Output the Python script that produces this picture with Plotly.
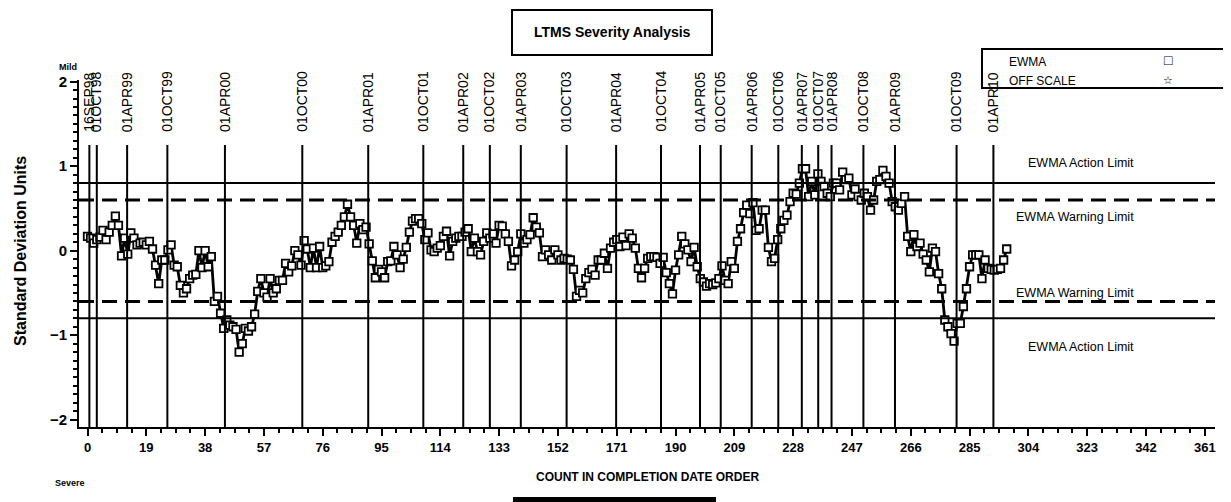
import plotly.graph_objects as go

# the page body has an 8px margin, so the figure is drawn 8px in from the top-left
OFF = 8
W, H = 1231 - OFF, 502 - OFF
L, R, T, B = 79 - OFF, 16, 80 - OFF, 75

# EWMA severity values, in completion-date order
ewma = [
    0.17, 0.15, 0.09, 0.13, 0.16, 0.24, 0.13, 0.22, 0.30, 0.41,
    0.30, -0.06, 0.15, -0.04, 0.21, 0.15, 0.07, 0.09, 0.10, 0.07,
    0.11, 0.02, -0.17, -0.39, -0.11, -0.11, 0.01, 0.07, -0.17, -0.19,
    -0.41, -0.50, -0.45, -0.33, -0.29, -0.28, 0.00, -0.20, 0.00, -0.19,
    -0.07, -0.60, -0.54, -0.74, -0.92,
    -0.82, -0.88, -0.90, -0.93, -1.20, -1.10, -0.92, -0.95, -0.90, -0.75,
    -0.48, -0.33, -0.50, -0.55, -0.33, -0.50, -0.45, -0.35, -0.35, -0.15,
    -0.25, -0.18, 0.00, -0.05, -0.17, 0.12, 0.02, -0.20, 0.03, -0.20,
    0.05, -0.20, -0.18, -0.13, 0.10, 0.17, 0.22, 0.30, 0.40, 0.55,
    0.40, 0.30, 0.09, 0.32, 0.25, 0.28, 0.08, -0.12, -0.32, -0.22,
    -0.25, -0.32, -0.13, -0.12, 0.05, -0.05, -0.20, -0.10, 0.04, 0.22,
    0.35, 0.38,
    0.38, 0.32, 0.13, 0.21, 0.01, -0.01, 0.03, 0.06, 0.17, 0.23,
    -0.06, 0.11, 0.15, 0.17, 0.17, 0.22, 0.26, -0.01, 0.15, -0.01,
    -0.05, 0.11, 0.21, 0.15, 0.20, 0.09, 0.30, 0.29, 0.20, 0.11,
    -0.18, -0.11, -0.01, 0.20, 0.09, 0.13, 0.19, 0.39, 0.28, 0.21,
    -0.07, 0.01, -0.05, -0.11, 0.01, -0.05, -0.11, -0.09, -0.10, -0.11,
    -0.22, -0.54, -0.47, -0.50, -0.33, -0.26, -0.22, -0.29, -0.11, -0.11,
    -0.03, -0.21, 0.03, 0.10, 0.13, 0.05, 0.16, 0.06, 0.20, 0.15,
    0.03, -0.21, -0.32, -0.21, -0.09, -0.07, -0.07, -0.08, -0.15, -0.08,
    -0.26, -0.39, -0.51, -0.23, -0.05, 0.17, 0.08, 0.01, -0.13, 0.04,
    -0.19, -0.33, -0.37, -0.42, -0.39, -0.40, -0.38, -0.33, -0.18, -0.35,
    -0.39, -0.13, -0.21, 0.11, 0.26, 0.45, 0.54, 0.44, 0.57, 0.24,
    0.26, 0.48, 0.48,
    0.04, -0.13, -0.09, 0.13, 0.26, 0.36, 0.42, 0.58, 0.68, 0.67,
    0.80, 0.97, 0.97, 0.64, 0.82, 0.66, 0.91, 0.82, 0.76, 0.68,
    0.64, 0.80, 0.80, 0.72, 0.93, 0.84, 0.86, 0.66, 0.73, 0.64,
    0.60, 0.68, 0.64, 0.48, 0.60,
    0.82, 0.84, 0.95, 0.88, 0.80, 0.58, 0.52, 0.48, 0.56, 0.64,
    0.17, -0.01, 0.19, 0.05, 0.09, -0.04, -0.11, -0.25, 0.03, -0.01,
    -0.27, -0.45, -0.82, -0.90, -0.98, -1.07, -0.86, -0.86, -0.66, -0.45,
    -0.19, -0.05, -0.05, -0.05, -0.33, -0.11, -0.21, -0.22, -0.23, -0.22,
    -0.21, -0.11, 0.02,
]
count = list(range(len(ewma)))

date_labels = ['16SEP98', '01OCT98', '01APR99', '01OCT99', '01APR00', '01OCT00',
               '01APR01', '01OCT01', '01APR02', '01OCT02', '01APR03', '01OCT03',
               '01APR04', '01OCT04', '01APR05', '01OCT05', '01APR06', '01OCT06',
               '01APR07', '01OCT07', '01APR08', '01OCT08', '01APR09', '01OCT09',
               '01APR10']
date_pos = [0.6, 3.0, 12.8, 25.8, 44.4, 69.4, 90.7, 108.5, 121.4, 130.0,
            140.0, 154.8, 170.8, 185.3, 197.9, 204.6, 214.6, 223.2, 230.8,
            236.1, 240.4, 250.7, 260.9, 280.8, 292.7]

action_limit = 0.8
warning_limit = 0.6

X_RANGE = [-2.75, 364.3]
Y_RANGE = [-2.086, 2.02]
DATE_LINE_TOP = 1.25

FONT = "Liberation Sans, Arial, sans-serif"


def px(xp, yp):
    """page pixel position -> paper coordinates"""
    xp, yp = xp - OFF, yp - OFF
    return (xp - L) / (W - L - R), (H - B - yp) / (H - T - B)


fig = go.Figure()
fig.add_trace(go.Scatter(
    x=count, y=ewma, mode='lines+markers', name='EWMA',
    line=dict(color='black', width=2.8),
    marker=dict(symbol='square', size=7.5, color='white',
                line=dict(color='black', width=1.8)),
    showlegend=False,
))

shapes = []
# limit lines
for lvl in (action_limit, -action_limit):
    shapes.append(dict(type='line', xref='paper', yref='y', x0=0, x1=1, y0=lvl, y1=lvl,
                       line=dict(color='black', width=2)))
for lvl in (warning_limit, -warning_limit):
    shapes.append(dict(type='line', xref='paper', yref='y', x0=0, x1=1, y0=lvl, y1=lvl,
                       line=dict(color='black', width=3, dash='15px,8px')))
# date reference lines
for d in date_pos:
    shapes.append(dict(type='line', xref='x', yref='y', x0=d, x1=d,
                       y0=Y_RANGE[0], y1=DATE_LINE_TOP,
                       line=dict(color='black', width=2)))

# title box
x0, y0 = px(512, 10)
x1, y1 = px(712, 55)
shapes.append(dict(type='rect', xref='paper', yref='paper', x0=x0, x1=x1, y0=y0, y1=y1,
                   line=dict(color='black', width=2), fillcolor='white'))
# legend box
x0, y0 = px(982, 49)
x1, y1 = px(1227, 88)
shapes.append(dict(type='rect', xref='paper', yref='paper', x0=x0, x1=x1, y0=y0, y1=y1,
                   line=dict(color='black', width=2)))
# bottom bar (top of footnote box)
x0, y0 = px(513, 497)
x1, y1 = px(716, 503)
shapes.append(dict(type='rect', xref='paper', yref='paper', x0=x0, x1=x1, y0=y0, y1=y1,
                   line=dict(width=0), fillcolor='black'))

annotations = []
for lab, d in zip(date_labels, date_pos):
    annotations.append(dict(x=d, xref='x', y=px(0, 134)[1], yref='paper',
                            text=lab, textangle=-90, showarrow=False,
                            xanchor='center', yanchor='bottom',
                            font=dict(family=FONT, size=14, color='black')))


def note(xp, yp, text, size=13, bold=False, angle=0, family=FONT, anchor='center'):
    xx, yy = px(xp, yp)
    annotations.append(dict(x=xx, y=yy, xref='paper', yref='paper', text=text,
                            showarrow=False, textangle=angle, xanchor=anchor, yanchor='middle',
                            font=dict(family=family, size=size, color='black',
                                      weight='bold' if bold else 'normal')))


note(612, 32, 'LTMS Severity Analysis', size=14, bold=True)
note(1007, 62, 'EWMA', size=12, anchor='left')
note(1007, 81, 'OFF SCALE', size=12, anchor='left')
note(1168, 60, '□', size=14, bold=True)
note(1168, 80, '☆', size=11, family="DejaVu Sans")
note(1081, 163, 'EWMA Action Limit', size=12.5)
note(1075, 217, 'EWMA Warning Limit', size=12.5)
note(1075, 293, 'EWMA Warning Limit', size=12.5)
note(1081, 347, 'EWMA Action Limit', size=12.5)
note(68, 67, 'Mild', size=9, bold=True)
note(70, 483, 'Severe', size=9, bold=True)
note(20, 251, 'Standard Deviation Units', size=16, bold=True, angle=-90)
note(647, 477, 'COUNT IN COMPLETION DATE ORDER', size=12, bold=True)

fig.update_layout(
    width=W, height=H,
    margin=dict(l=L, r=R, t=T, b=B),
    paper_bgcolor='white', plot_bgcolor='white',
    shapes=shapes, annotations=annotations,
    showlegend=False,
    xaxis=dict(range=X_RANGE, tick0=0, dtick=19, showgrid=False, zeroline=False,
               automargin=False,
               showline=True, linecolor='black', linewidth=2,
               ticks='outside', ticklen=7, tickwidth=2, tickcolor='black',
               tickfont=dict(family=FONT, size=13, color='black', weight='bold'),
               minor=dict(tick0=0, dtick=4.75, ticks='outside', ticklen=4,
                          tickwidth=1.5, tickcolor='black', showgrid=False)),
    yaxis=dict(range=Y_RANGE, tick0=0, dtick=1, showgrid=False, zeroline=False,
               automargin=False,
               showline=True, linecolor='black', linewidth=2,
               ticks='outside', ticklen=7, tickwidth=2, tickcolor='black',
               tickformat='d',
               tickfont=dict(family=FONT, size=15, color='black', weight='bold'),
               minor=dict(tick0=0, dtick=0.1, ticks='outside', ticklen=4,
                          tickwidth=1.5, tickcolor='black', showgrid=False)),
)

fig.write_html("out.html")
